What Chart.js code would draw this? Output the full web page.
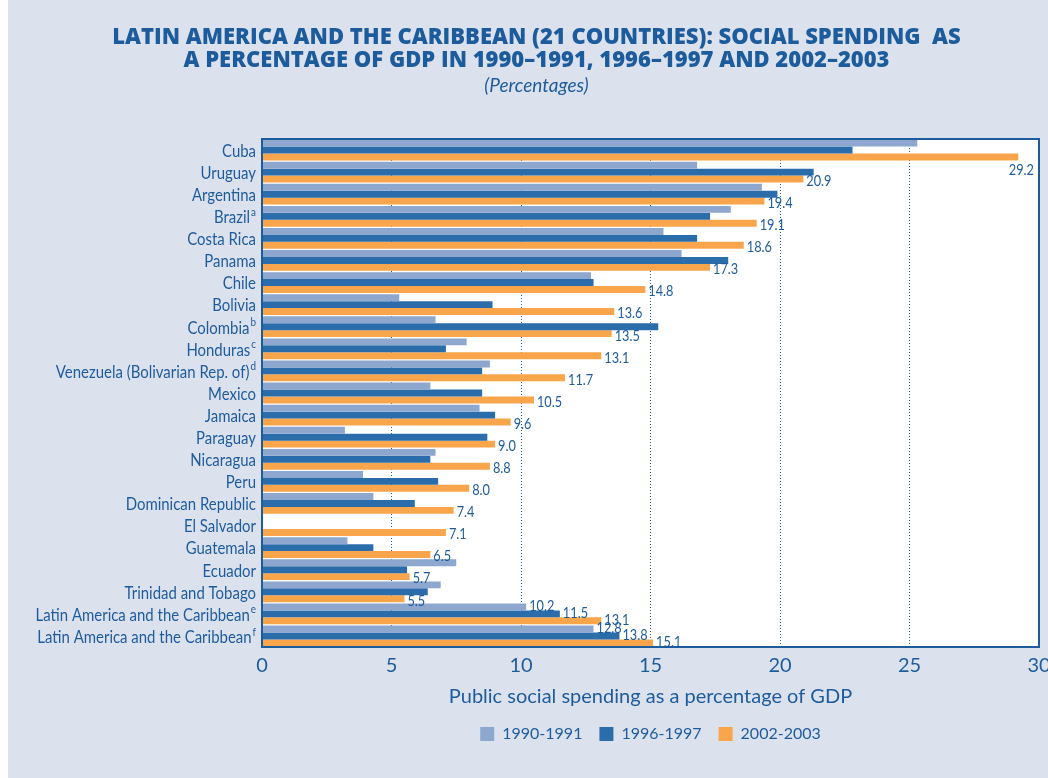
<!DOCTYPE html>
<html>
<head>
<meta charset="utf-8">
<script src="https://cdn.jsdelivr.net/npm/chart.js@4.4.1/dist/chart.umd.min.js"></script>
<style>
  html, body { margin: 0; padding: 0; background: #fff; }
  #chart { display: block; }
</style>
</head>
<body>
<canvas id="chart" width="1048" height="778"></canvas>
<script>
const countries = ['Cuba', 'Uruguay', 'Argentina', 'Brazil', 'Costa Rica', 'Panama', 'Chile', 'Bolivia',
    'Colombia', 'Honduras', 'Venezuela (Bolivarian Rep. of)', 'Mexico', 'Jamaica', 'Paraguay', 'Nicaragua',
    'Peru', 'Dominican Republic', 'El Salvador', 'Guatemala', 'Ecuador', 'Trinidad and Tobago',
    'Latin America and the Caribbean', 'Latin America and the Caribbean'];
const notes = ['', '', '', 'a', '', '', '', '', 'b', 'c', 'd', '', '', '', '', '', '', '', '', '', '', 'e', 'f'];

const periods = ['1990-1991', '1996-1997', '2002-2003'];
const spend1990 = [25.3, 16.8, 19.3, 18.1, 15.5, 16.2, 12.7, 5.3, 6.7, 7.9, 8.8, 6.5, 8.4, 3.2, 6.7, 3.9, 4.3, null, 3.3, 7.5, 6.9, 10.2, 12.8];
const spend1996 = [22.8, 21.3, 19.9, 17.3, 16.8, 18.0, 12.8, 8.9, 15.3, 7.1, 8.5, 8.5, 9.0, 8.7, 6.5, 6.8, 5.9, null, 4.3, 5.6, 6.4, 11.5, 13.8];
const spend2002 = [29.2, 20.9, 19.4, 19.1, 18.6, 17.3, 14.8, 13.6, 13.5, 13.1, 11.7, 10.5, 9.6, 9.0, 8.8, 8.0, 7.4, 7.1, 6.5, 5.7, 5.5, 13.1, 15.1];

// the two regional averages get a value label on every bar
const fullyLabelled = [21, 22];

const ink = '#1d5c9c';
const barColors = ['#8da7cf', '#2b6cab', '#f9a54b'];

// canvas text with a horizontal squeeze, drawn from its left edge
function squeezed(ctx, text, x, y, k) {
    const w = ctx.measureText(text).width * k;
    ctx.fillText(text, x, y, w);
    return w;
}

const panel = {
    id: 'panel',
    afterLayout(c) {
        // keep the legend centred under the plot rather than the whole canvas
        c.legend.left = c.chartArea.left;
        c.legend.right = c.chartArea.right;
    },
    beforeDraw(c) {
        const {ctx, chartArea: a} = c;
        ctx.save();
        ctx.fillStyle = '#fff';
        ctx.fillRect(0, 0, c.width, c.height);
        ctx.fillStyle = '#dce1ee';
        ctx.fillRect(8, 0, c.width - 8, c.height);
        ctx.fillStyle = '#fff';
        ctx.fillRect(a.left, a.top, a.right - a.left, a.bottom - a.top);
        ctx.restore();
    },
    afterDraw(c) {
        const {ctx, chartArea: a} = c;
        const y = c.scales.y;
        ctx.save();
        ctx.strokeStyle = ink;
        ctx.lineWidth = 2;
        ctx.strokeRect(a.left, a.top, a.right - a.left, a.bottom - a.top);

        // country names with their footnote letters
        ctx.fillStyle = ink;
        ctx.textBaseline = 'middle';
        ctx.textAlign = 'left';
        countries.forEach((name, i) => {
            const py = y.getPixelForValue(i) + 1;
            ctx.font = '18px Lato';
            const w = ctx.measureText(name).width * 0.83;
            ctx.font = '11px Lato';
            const sw = notes[i] ? ctx.measureText(notes[i]).width * 0.9 + 1 : 0;
            const x0 = a.left - 6 - w - sw;
            ctx.font = '18px Lato';
            squeezed(ctx, name, x0, py, 0.83);
            if (notes[i]) {
                ctx.font = '11px Lato';
                squeezed(ctx, notes[i], x0 + w + 1, py - 5, 0.9);
            }
        });

        // value labels at the end of the bars
        ctx.font = '15px Lato';
        c.data.datasets.forEach((ds, d) => {
            c.getDatasetMeta(d).data.forEach((bar, i) => {
                const v = ds.data[i];
                if (v == null) return;
                if (d < 2 && !fullyLabelled.includes(i)) return;
                const txt = v.toFixed(1);
                const w = ctx.measureText(txt).width * 0.85;
                if (bar.x + 3 + w > a.right - 2) {
                    squeezed(ctx, txt, a.right - 5 - w, bar.y + 13, 0.85);
                } else {
                    const dy = fullyLabelled.includes(i) ? -1 : 2;
                    squeezed(ctx, txt, bar.x + 3, bar.y + dy, 0.85);
                }
            });
        });
        ctx.restore();
    }
};

new Chart(document.getElementById('chart'), {
    type: 'bar',
    data: {
        labels: countries.map((c, i) => c + notes[i]),
        datasets: [spend1990, spend1996, spend2002].map((vals, k) => ({
            label: periods[k],
            data: vals,
            backgroundColor: barColors[k],
            borderWidth: 0,
            categoryPercentage: 0.94,
            barPercentage: 1
        }))
    },
    options: {
        indexAxis: 'y',
        responsive: false,
        animation: false,
        layout: {
            padding: {left: 34, right: 9, top: 0, bottom: 26}
        },
        plugins: {
            title: {
                display: true,
                text: ['LATIN AMERICA AND THE CARIBBEAN (21 COUNTRIES): SOCIAL SPENDING  AS',
                    'A PERCENTAGE OF GDP IN 1990\u20131991, 1996\u20131997 AND 2002\u20132003'],
                color: ink,
                font: {family: 'Open Sans', size: 22, weight: 800, lineHeight: 1.05},
                padding: {top: 26, bottom: 2}
            },
            subtitle: {
                display: true,
                text: '(Percentages)',
                color: ink,
                font: {family: 'Lato', size: 19, style: 'italic', lineHeight: 1.2},
                padding: {top: 0, bottom: 42}
            },
            legend: {
                position: 'bottom',
                labels: {
                    color: ink,
                    boxWidth: 14,
                    boxHeight: 14,
                    padding: 17,
                    font: {family: 'Lato', size: 16}
                }
            },
            tooltip: {enabled: false}
        },
        scales: {
            x: {
                min: 0,
                max: 30,
                ticks: {stepSize: 5, color: ink, padding: 9, font: {family: 'Lato', size: 20, lineHeight: 1}},
                grid: {
                    drawTicks: false,
                    color: ctx => (ctx.tick.value === 0 || ctx.tick.value === 30) ? 'rgba(0,0,0,0)' : ink
                },
                border: {display: false, dash: [1, 2]},
                title: {
                    display: true,
                    text: 'Public social spending as a percentage of GDP',
                    color: ink,
                    font: {family: 'Lato', size: 20},
                    padding: {top: 0, bottom: 0}
                },
                afterFit: s => {
                    // let the end tick labels run into the margins
                    s.paddingLeft = 0;
                    s.paddingRight = 0;
                }
            },
            y: {
                ticks: {display: false},
                grid: {display: false},
                border: {display: false},
                afterFit: s => { s.width = 228; }
            }
        }
    },
    plugins: [panel]
});
</script>
</body>
</html>
